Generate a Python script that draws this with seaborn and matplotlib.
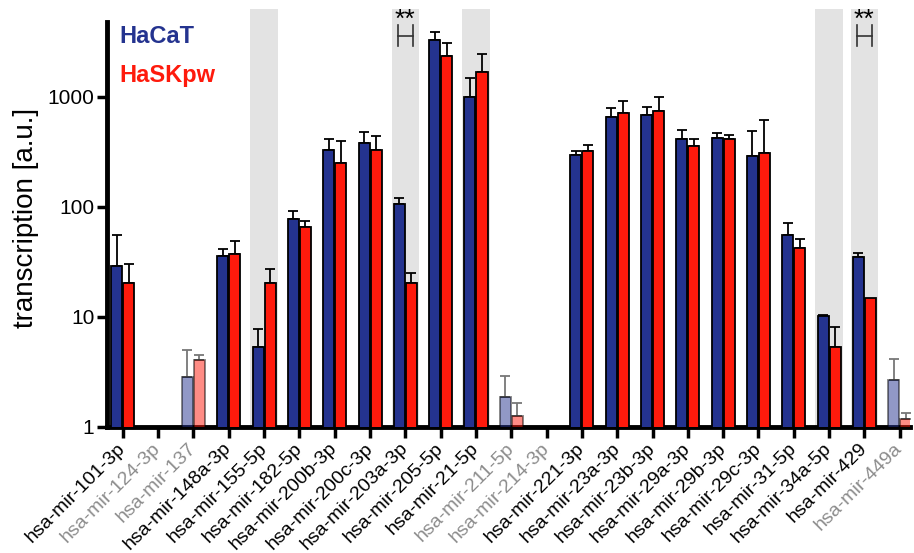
import numpy as np
import pandas as pd
import matplotlib
matplotlib.use('Agg')
import matplotlib.pyplot as plt
import seaborn as sns

# miRNA transcription, HaCaT vs HaSKpw (log scale)
mirnas = ['hsa-mir-101-3p', 'hsa-mir-124-3p', 'hsa-mir-137', 'hsa-mir-148a-3p',
          'hsa-mir-155-5p', 'hsa-mir-182-5p', 'hsa-mir-200b-3p', 'hsa-mir-200c-3p',
          'hsa-mir-203a-3p', 'hsa-mir-205-5p', 'hsa-mir-21-5p', 'hsa-mir-211-5p',
          'hsa-mir-214-3p', 'hsa-mir-221-3p', 'hsa-mir-23a-3p', 'hsa-mir-23b-3p',
          'hsa-mir-29a-3p', 'hsa-mir-29b-3p', 'hsa-mir-29c-3p', 'hsa-mir-31-5p',
          'hsa-mir-34a-5p', 'hsa-mir-429', 'hsa-mir-449a']

hacat = [29, np.nan, 2.85, 36, 5.3, 78, 330, 380, 106, 3300, 1000, 1.87,
         np.nan, 298, 655, 690, 415, 425, 290, 56, 10.1, 35.3, 2.67]
hacat_err = [26, 0, 2.15, 5.5, 2.5, 14, 85, 100, 14, 600, 480, 1.03,
             0, 22, 135, 120, 85, 45, 200, 15, 0.3, 2.7, 1.48]

haskpw = [20.4, np.nan, 4.06, 37.5, 20.4, 66, 250, 330, 20.4, 2350, 1690, 1.26,
          np.nan, 323, 715, 750, 360, 415, 310, 42.5, 5.37, 15, 1.18]
haskpw_err = [9.6, 0, 0.44, 11.5, 6.6, 8, 150, 110, 4.6, 720, 760, 0.39,
              0, 42, 205, 250, 55, 35, 310, 8.5, 2.7, 0, 0.16]

# low expressed (drawn faded) and significant (shaded) miRNAs
faded = ['hsa-mir-124-3p', 'hsa-mir-137', 'hsa-mir-211-5p', 'hsa-mir-214-3p', 'hsa-mir-449a']
shaded = ['hsa-mir-155-5p', 'hsa-mir-203a-3p', 'hsa-mir-21-5p', 'hsa-mir-34a-5p', 'hsa-mir-429']
starred = ['hsa-mir-203a-3p', 'hsa-mir-429']

cells = ['HaCaT', 'HaSKpw']
colors = {'HaCaT': '#24338f', 'HaSKpw': '#fe1a0c'}

n = len(mirnas)
df = pd.DataFrame({
    'mirna': mirnas * 2,
    'cell': ['HaCaT'] * n + ['HaSKpw'] * n,
    'value': hacat + haskpw,
})
errs = {'HaCaT': hacat_err, 'HaSKpw': haskpw_err}

plt.rcParams['font.family'] = ['Liberation Sans', 'DejaVu Sans']

fig = plt.figure(figsize=(9.14, 5.53), dpi=100)
ax = fig.add_axes([0.117, 0.228, 0.879, 0.756])
ax.set_yscale('log')

for name in shaded:
    i = mirnas.index(name)
    ax.axvspan(i - 0.39, i + 0.39, color='#e3e3e3', zorder=0, lw=0)

sns.barplot(data=df, x='mirna', y='value', hue='cell', order=mirnas, hue_order=cells,
            palette=colors, saturation=1, edgecolor='black', linewidth=1.3,
            width=0.68, gap=0.08, errorbar=None, legend=False, ax=ax, zorder=3)

bar_conts = list(ax.containers)
for k, cont in enumerate(bar_conts):
    cell = cells[k]
    for p in cont.patches:
        h = p.get_height()
        if not np.isfinite(h) or h <= 0:
            continue
        xc = p.get_x() + p.get_width() / 2
        idx = int(round(xc))
        low = mirnas[idx] in faded
        if low:
            p.set_alpha(0.5)
        ecol = '#777777' if low else 'black'
        e = errs[cell][idx]
        if e > 0:
            ax.errorbar(xc, h, yerr=[[0], [e]], fmt='none', ecolor=ecol,
                        elinewidth=1.3, capsize=3.5, capthick=1.3, zorder=2)

# significance marks
for name in starred:
    i = mirnas.index(name)
    ax.plot([i - 0.21, i - 0.21], [2900, 4500], color='#333333', lw=1.2, zorder=4)
    ax.plot([i + 0.21, i + 0.21], [2900, 4500], color='#333333', lw=1.2, zorder=4)
    ax.plot([i - 0.21, i + 0.21], [3600, 3600], color='#333333', lw=1.2, zorder=4)
    ax.text(i, 3900, '**', ha='center', va='bottom', fontsize=19)

ax.set_xlim(-0.45, n - 1 + 0.3)
ax.set_ylim(1, 6300)
ax.set_yticks([1, 10, 100, 1000])
ax.set_yticklabels(['1', '10', '100', '1000'])
ax.yaxis.set_minor_locator(matplotlib.ticker.NullLocator())

for s in ['top', 'right']:
    ax.spines[s].set_visible(False)
ax.spines['left'].set_linewidth(3.5)
ax.spines['bottom'].set_linewidth(3.5)
ax.spines['left'].set_bounds(1, 4800)

ax.tick_params(axis='y', length=7, width=2.5, labelsize=15, pad=2)
ax.tick_params(axis='x', length=8, width=2.5, labelsize=14, pad=5.5)
plt.setp(ax.get_xticklabels(), rotation=45, ha='right', va='center', rotation_mode='anchor')
for lbl in ax.get_xticklabels():
    if lbl.get_text() in faded:
        lbl.set_color('#8c8c8c')

ax.set_xlabel('')
ax.set_ylabel('transcription [a.u.]', fontsize=20, labelpad=6)

ax.text(0.016, 0.935, 'HaCaT', transform=ax.transAxes, color=colors['HaCaT'],
        fontsize=17, fontweight='bold', va='center')
ax.text(0.016, 0.84, 'HaSKpw', transform=ax.transAxes, color=colors['HaSKpw'],
        fontsize=17, fontweight='bold', va='center')

fig.savefig('out.png', dpi=100)
